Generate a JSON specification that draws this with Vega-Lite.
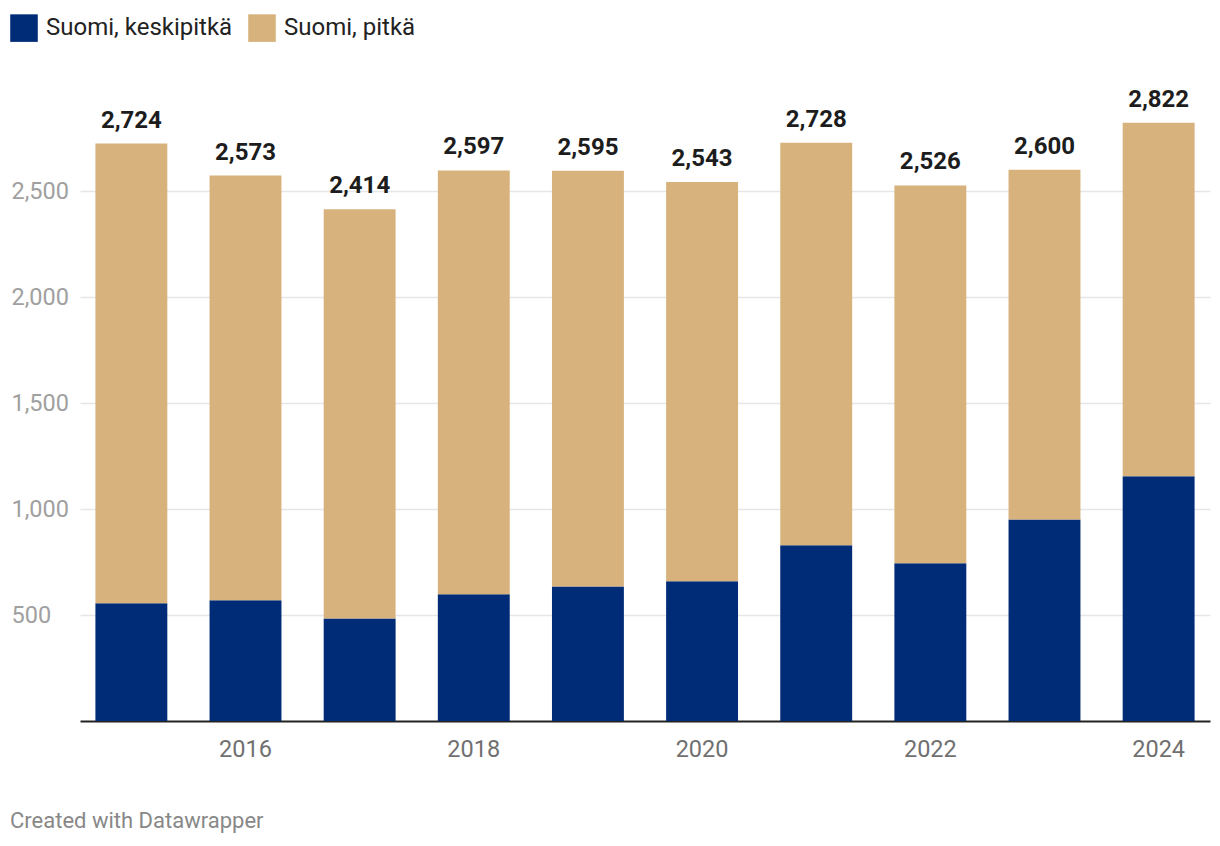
{
  "$schema": "https://vega.github.io/schema/vega-lite/v6.json",
  "width": 1130,
  "height": 636,
  "autosize": {"type": "none"},
  "padding": {"left": 80, "top": 85, "right": 10, "bottom": 125},
  "background": "white",
  "config": {
    "view": {"stroke": null},
    "font": "Roboto",
    "axis": {"labelFont": "Roboto", "titleFont": "Roboto"},
    "legend": {"labelFont": "Roboto"}
  },
  "title": {
    "text": "Created with Datawrapper",
    "orient": "bottom",
    "anchor": "start",
    "dx": 0,
    "offset": 50,
    "fontSize": 22,
    "fontWeight": "normal",
    "color": "#888888",
    "font": "Roboto"
  },
  "data": {
    "values": [
      {"year": 2015, "series": "Suomi, keskipitkä", "value": 555},
      {"year": 2015, "series": "Suomi, pitkä", "value": 2169},
      {"year": 2016, "series": "Suomi, keskipitkä", "value": 569},
      {"year": 2016, "series": "Suomi, pitkä", "value": 2004},
      {"year": 2017, "series": "Suomi, keskipitkä", "value": 484},
      {"year": 2017, "series": "Suomi, pitkä", "value": 1930},
      {"year": 2018, "series": "Suomi, keskipitkä", "value": 598},
      {"year": 2018, "series": "Suomi, pitkä", "value": 1999},
      {"year": 2019, "series": "Suomi, keskipitkä", "value": 635},
      {"year": 2019, "series": "Suomi, pitkä", "value": 1960},
      {"year": 2020, "series": "Suomi, keskipitkä", "value": 659},
      {"year": 2020, "series": "Suomi, pitkä", "value": 1884},
      {"year": 2021, "series": "Suomi, keskipitkä", "value": 829},
      {"year": 2021, "series": "Suomi, pitkä", "value": 1899},
      {"year": 2022, "series": "Suomi, keskipitkä", "value": 744},
      {"year": 2022, "series": "Suomi, pitkä", "value": 1782},
      {"year": 2023, "series": "Suomi, keskipitkä", "value": 951},
      {"year": 2023, "series": "Suomi, pitkä", "value": 1649},
      {"year": 2024, "series": "Suomi, keskipitkä", "value": 1154},
      {"year": 2024, "series": "Suomi, pitkä", "value": 1668}
    ]
  },
  "encoding": {
    "x": {
      "field": "year",
      "type": "ordinal",
      "scale": {"paddingInner": 0.37, "paddingOuter": 0.135},
      "axis": {
        "title": null,
        "labelAngle": 0,
        "labelExpr": "datum.value % 2 == 0 ? datum.label : ''",
        "labelFontSize": 23.5,
        "labelColor": "#707070",
        "labelPadding": 16,
        "ticks": false,
        "domainColor": "#222222",
        "domainWidth": 2,
        "grid": false
      }
    }
  },
  "layer": [
    {
      "mark": {"type": "bar"},
      "encoding": {
        "y": {
          "field": "value",
          "type": "quantitative",
          "stack": "zero",
          "scale": {"domain": [0, 3000], "nice": false},
          "axis": {
            "title": null,
            "values": [500, 1000, 1500, 2000, 2500],
            "format": ",.0f",
            "domain": false,
            "ticks": false,
            "tickSize": 0,
            "labelAlign": "left",
            "labelPadding": 69,
            "labelFontSize": 23.5,
            "labelColor": "#a0a0a0",
            "gridColor": "#e6e6e6",
            "gridWidth": 1.5
          }
        },
        "color": {
          "field": "series",
          "type": "nominal",
          "scale": {
            "domain": ["Suomi, keskipitkä", "Suomi, pitkä"],
            "range": ["#002c77", "#d7b27c"]
          },
          "legend": {
            "title": null,
            "orient": "none",
            "legendX": -70,
            "legendY": -71,
            "direction": "horizontal",
            "symbolType": "square",
            "symbolSize": 760,
            "symbolStrokeWidth": 0,
            "symbolOpacity": 1,
            "labelFontSize": 24,
            "labelColor": "#222222",
            "labelOffset": 8,
            "labelLimit": 0,
            "columnPadding": 15,
            "padding": 0
          }
        },
        "order": {"field": "series", "sort": "ascending"}
      }
    },
    {
      "mark": {
        "type": "text",
        "baseline": "alphabetic",
        "dy": -16,
        "fontSize": 24,
        "fontWeight": "bold",
        "color": "#1d1d1d",
        "font": "Roboto"
      },
      "encoding": {
        "y": {"aggregate": "sum", "field": "value", "type": "quantitative"},
        "text": {"aggregate": "sum", "field": "value", "type": "quantitative", "format": ","}
      }
    }
  ]
}
